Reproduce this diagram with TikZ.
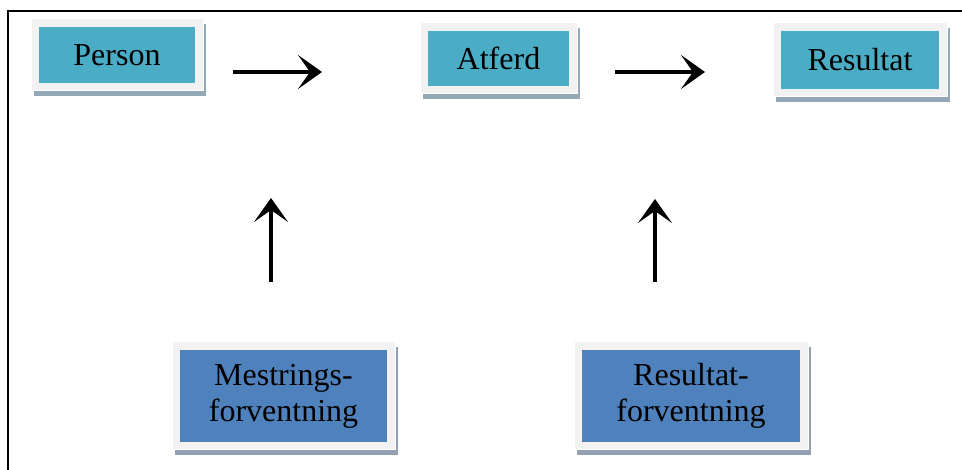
\documentclass[tikz,border=0pt]{standalone}
\usepackage{fontspec}
\setmainfont{Liberation Serif}
\usetikzlibrary{arrows.meta,shadows}
\definecolor{rammegraa}{HTML}{F2F2F2}
\definecolor{turkis}{HTML}{4BACC6}
\definecolor{turkisskygge}{HTML}{93AAB6}
\definecolor{blaa}{HTML}{4F81BD}
\definecolor{blaaskygge}{HTML}{959FB2}

\begin{document}
\begin{tikzpicture}[x=1pt, y=-1pt,
    every node/.style={font=\fontsize{32}{36}\selectfont, align=center, inner sep=0pt},
    boks/.style n args={3}{rectangle, fill=rammegraa, draw=white, line width=1pt,
        minimum width=#1, minimum height=#2,
        drop shadow={shadow xshift=3pt, shadow yshift=-5pt, fill=#3skygge, opacity=1},
        path picture={\fill[#3] ([shift={(8pt,-8pt)}]path picture bounding box.north west)
            rectangle ([shift={(-8pt,8pt)}]path picture bounding box.south east);}},
    pil/.style={line width=4pt, -{Stealth[length=24pt, width=34pt, inset=12pt]}}]
    \useasboundingbox (0,0) rectangle (962,470);
    \draw[line width=2pt] (962,11) -- (8,11) -- (8,470);

    \node[boks={172pt}{72pt}{turkis}] (person) at (117,55) {Person};
    \node[boks={157pt}{71pt}{turkis}] (atferd) at (498.5,58.5) {Atferd};
    \node[boks={174pt}{74pt}{turkis}] (resultat) at (860,60) {Resultat};
    \node[boks={223pt}{108pt}{blaa}] (mestring) at (283.5,396) {Mestrings-\\forventning};
    \node[boks={234pt}{108pt}{blaa}] (resforv) at (691,396) {Resultat-\\forventning};

    \coordinate (fra1) at (233,72);
    \coordinate (til1) at (322,72);
    \coordinate (fra2) at (615,72);
    \coordinate (til2) at (705,72);
    \coordinate (fra3) at (271,282);
    \coordinate (til3) at (271,198);
    \coordinate (fra4) at (655,282);
    \coordinate (til4) at (655,199);
    \draw[pil] (fra1) -- (til1);
    \draw[pil] (fra2) -- (til2);
    \draw[pil] (fra3) -- (til3);
    \draw[pil] (fra4) -- (til4);
\end{tikzpicture}
\end{document}
